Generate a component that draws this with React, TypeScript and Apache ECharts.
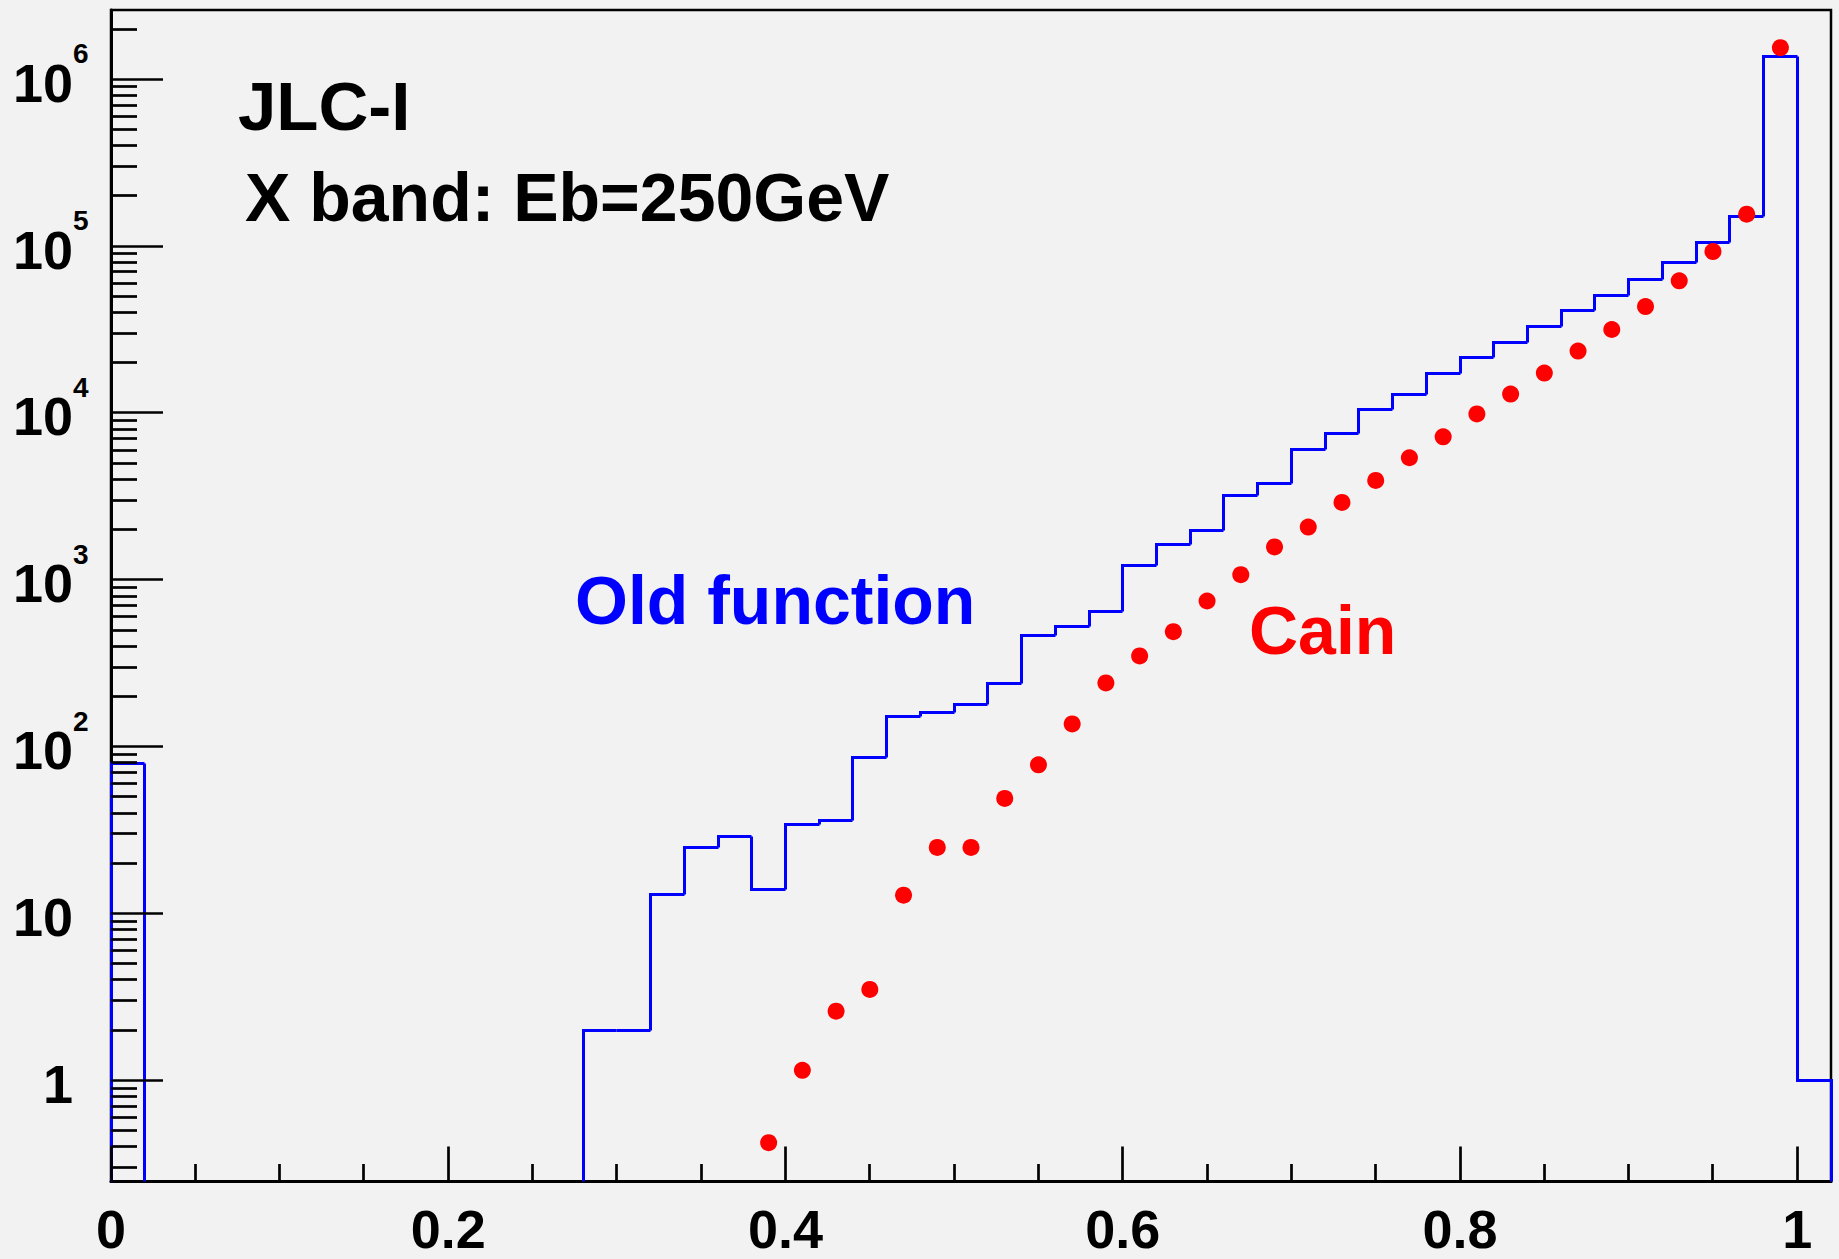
import React, { useEffect, useRef } from "react";
import * as echarts from "echarts";

// ---------- data ----------
const BIN_WIDTH = 0.02;
const BIN_LOW_EDGES = [
  0.0, 0.02, 0.04, 0.06, 0.08, 0.1, 0.12, 0.14, 0.16, 0.18, 0.2, 0.22, 0.24, 0.26,
  0.28, 0.3, 0.32, 0.34, 0.36, 0.38, 0.4, 0.42, 0.44, 0.46, 0.48, 0.5, 0.52, 0.54,
  0.56, 0.58, 0.6, 0.62, 0.64, 0.66, 0.68, 0.7, 0.72, 0.74, 0.76, 0.78, 0.8, 0.82,
  0.84, 0.86, 0.88, 0.9, 0.92, 0.94, 0.96, 0.98, 1.0,
];
const OLD_FUNCTION = [
  79, 0, 0, 0, 0, 0, 0, 0, 0, 0, 0, 0, 0, 0,
  2, 2, 13, 25, 29, 14, 34, 36, 86, 152, 160, 178, 238, 465,
  526, 647, 1216, 1624, 1970, 3206, 3783, 6020, 7535, 10555, 12910, 17170, 21500, 26590,
  33160, 41340, 50570, 63070, 79700, 105030, 150300, 1366000, 1,
];
const CAIN_X = [
  0.39, 0.41, 0.43, 0.45, 0.47, 0.49, 0.51, 0.53, 0.55, 0.57, 0.59, 0.61, 0.63, 0.65, 0.67,
  0.69, 0.71, 0.73, 0.75, 0.77, 0.79, 0.81, 0.83, 0.85, 0.87, 0.89, 0.91, 0.93, 0.95, 0.97, 0.99,
];
const CAIN_Y = [
  0.424, 1.15, 2.6, 3.51, 12.9, 24.9, 24.9, 49, 77.9, 137, 241, 350, 489, 747, 1074,
  1574, 2073, 2911, 3942, 5391, 7202, 9870, 12980, 17340, 23490, 31640, 43450, 61930, 92770, 155400, 1547000,
];

const X_MIN = 0;
const X_MAX = 1.02;
const Y_MIN = 0.248;
const Y_MAX = 2.6e6;

const X_MAJOR_TICKS = [0, 0.2, 0.4, 0.6, 0.8, 1.0];
const X_MINOR_TICKS = [0.05, 0.1, 0.15, 0.25, 0.3, 0.35, 0.45, 0.5, 0.55, 0.65, 0.7, 0.75, 0.85, 0.9, 0.95];
const Y_MAJOR_TICKS = [1, 10, 100, 1000, 10000, 100000, 1000000];
const Y_MINOR_TICKS: number[] = [];
for (let e = -1; e <= 6; e++) {
  for (let m = 2; m <= 9; m++) {
    const v = m * Math.pow(10, e);
    if (v > Y_MIN && v < Y_MAX) Y_MINOR_TICKS.push(v);
  }
}

const TITLE_1 = "JLC-I";
const TITLE_2 = "X band: Eb=250GeV";
const LABEL_OLD = "Old function";
const LABEL_CAIN = "Cain";

// ---------- styles ----------
const BG = "#f2f2f2";
const FONT = "'Liberation Sans', Arial, Helvetica, sans-serif";
const BLUE = "#0000ff";
const RED = "#ff0000";

const GRID_LEFT = 111;
const GRID_TOP = 10;
const GRID_RIGHT = 8;
const GRID_BOTTOM = 77.5;

const snap = (v: number) => Math.round(v - 0.5) + 0.5;

function textEl(x: number, y: number, text: string, size: number, color: string, align: string, z = 10) {
  return {
    type: "text",
    x,
    y,
    z,
    style: {
      text,
      fill: color,
      fontSize: size,
      fontWeight: "bold",
      fontFamily: FONT,
      align,
      textAlign: align,
      verticalAlign: "middle",
      textVerticalAlign: "middle",
    },
  };
}

function buildOption() {
  const histData = BIN_LOW_EDGES.map((lo, i) => [lo, +(lo + BIN_WIDTH).toFixed(2), OLD_FUNCTION[i]]);
  const cainData = CAIN_X.map((x, i) => [x, CAIN_Y[i]]);
  const yTickData = Y_MAJOR_TICKS.map((v) => [X_MIN, v, 1]).concat(Y_MINOR_TICKS.map((v) => [X_MIN, v, 0]));
  const xTickData = X_MAJOR_TICKS.map((v) => [v, 1, 1]).concat(X_MINOR_TICKS.map((v) => [v, 1, 0]));

  return {
    animation: false,
    backgroundColor: BG,
    grid: {
      left: GRID_LEFT,
      top: GRID_TOP,
      right: GRID_RIGHT,
      bottom: GRID_BOTTOM,
      show: true,
      borderColor: "#000",
      borderWidth: 2.5,
      backgroundColor: "transparent",
      containLabel: false,
      outerBoundsMode: "none",
    },
    xAxis: {
      type: "value",
      min: X_MIN,
      max: X_MAX,
      interval: 0.2,
      axisLine: { show: true, onZero: false, lineStyle: { color: "#000", width: 3 } },
      axisTick: { show: false },
      minorTick: { show: false },
      splitLine: { show: false },
      axisLabel: {
        show: true,
        margin: 20,
        color: "#000",
        fontSize: 54,
        fontWeight: "bold",
        fontFamily: FONT,
        showMinLabel: true,
        formatter: (v: number) => (v > 1.001 ? "" : String(parseFloat(v.toFixed(2)))),
      },
    },
    yAxis: {
      type: "log",
      logBase: 10,
      min: Y_MIN,
      max: Y_MAX,
      axisLine: { show: true, lineStyle: { color: "#000", width: 3 } },
      axisTick: { show: false },
      minorTick: { show: false },
      splitLine: { show: false },
      axisLabel: { show: false },
    },
    series: [
      {
        type: "custom",
        name: "Old function",
        data: histData,
        z: 4,
        encode: { x: [0, 1] },
        renderItem: (params: any, api: any) => {
          const i = params.dataIndex;
          const cs = params.coordSys;
          const bottom = cs.y + cs.height;
          const lo = api.value(0);
          const hi = api.value(1);
          const v = api.value(2);
          const yOf = (val: number) => (val > 0 ? snap(api.coord([lo, val])[1]) : bottom);
          const xl = snap(api.coord([lo, 1])[0]);
          const xh = snap(api.coord([hi, 1])[0]);
          const prevY = i === 0 ? bottom : yOf(OLD_FUNCTION[i - 1]);
          const pts: number[][] = [];
          if (v > 0) {
            pts.push([xl, prevY], [xl, yOf(v)], [xh, yOf(v)]);
            if (i === OLD_FUNCTION.length - 1) pts.push([xh, bottom]);
          } else {
            if (prevY === bottom) return null;
            pts.push([xl, prevY], [xl, bottom]);
          }
          return {
            type: "polyline",
            shape: { points: pts },
            style: { stroke: BLUE, lineWidth: 3, fill: null, lineJoin: "miter" },
          };
        },
      },
      {
        type: "scatter",
        name: "Cain",
        data: cainData,
        symbol: "circle",
        symbolSize: 17,
        z: 5,
        itemStyle: { color: RED, opacity: 1 },
      },
      {
        type: "custom",
        name: "yTicks",
        data: yTickData,
        z: 6,
        silent: true,
        renderItem: (params: any, api: any) => {
          const cs = params.coordSys;
          const v = api.value(1);
          const major = api.value(2) === 1;
          const y = api.coord([X_MIN, v])[1];
          const ys = snap(y);
          const x0 = cs.x;
          const children: any[] = [
            {
              type: "line",
              shape: { x1: x0, y1: ys, x2: x0 + (major ? 52 : 26), y2: ys },
              style: { stroke: "#000", lineWidth: 2.7 },
            },
          ];
          if (major) {
            const exp = Math.round(Math.log10(v));
            if (exp === 0) {
              children.push(textEl(x0 - 38, y + 3.5, "1", 54, "#000", "right"));
            } else {
              children.push(textEl(x0 - 38, y + 3.5, "10", 54, "#000", "right"));
              if (exp >= 2) {
                children.push(textEl(x0 - 38, y - 25.5, String(exp), 28, "#000", "left"));
              }
            }
          }
          return { type: "group", children };
        },
      },
      {
        type: "custom",
        name: "xTicks",
        data: xTickData,
        z: 6,
        silent: true,
        renderItem: (params: any, api: any) => {
          const cs = params.coordSys;
          const v = api.value(0);
          const major = api.value(2) === 1;
          const x = snap(api.coord([v, 1])[0]);
          const yb = cs.y + cs.height;
          return {
            type: "line",
            shape: { x1: x, y1: yb, x2: x, y2: yb - (major ? 35 : 17.5) },
            style: { stroke: "#000", lineWidth: 2.7 },
          };
        },
      },
    ],
    graphic: {
      elements: [
        textEl(238, 106, TITLE_1, 69, "#000", "left"),
        textEl(245, 197, TITLE_2, 68, "#000", "left"),
        textEl(575, 600, LABEL_OLD, 68, BLUE, "left"),
        textEl(1249, 630, LABEL_CAIN, 68, RED, "left"),
      ],
    },
  };
}

export default function App() {
  const ref = useRef<HTMLDivElement>(null);
  useEffect(() => {
    document.body.style.margin = "0";
    const chart = echarts.init(ref.current!, null, { renderer: "svg" });
    chart.setOption(buildOption() as any);
    return () => chart.dispose();
  }, []);
  return <div ref={ref} style={{ width: 1839, height: 1259, background: BG }} />;
}
